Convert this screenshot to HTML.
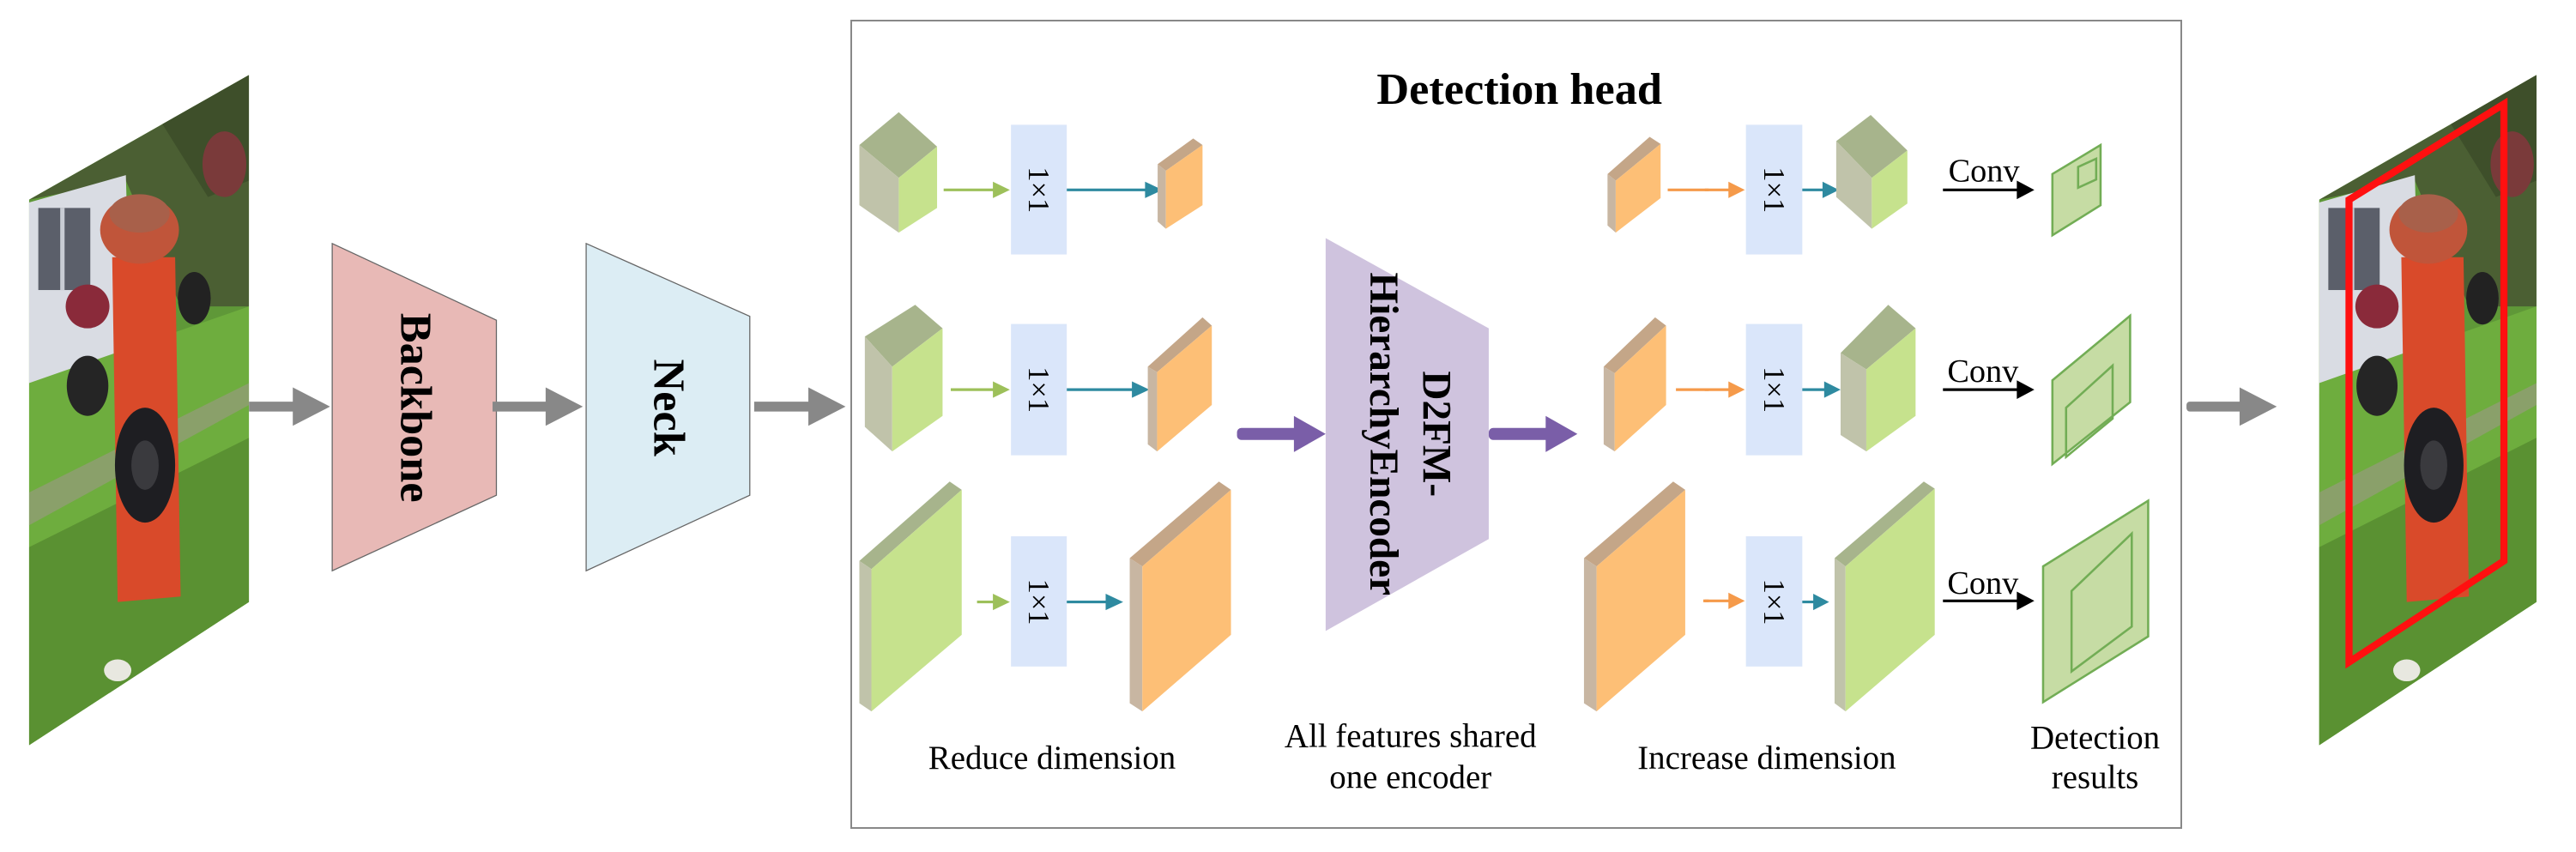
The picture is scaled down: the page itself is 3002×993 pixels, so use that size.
<!DOCTYPE html>
<html><head><meta charset="utf-8"><style>
html,body{margin:0;padding:0;background:#fff;}
svg{display:block;}
svg text{font-family:"Liberation Serif",serif;}
</style></head><body>
<svg width="3002" height="993" viewBox="0 0 3002 993" xmlns="http://www.w3.org/2000/svg" font-family="Liberation Serif, serif">
<defs>
<clipPath id="pc"><polygon points="53,365 455,137 455,1100 53,1362"/></clipPath>
<g id="photo">
 <g clip-path="url(#pc)">
  <rect x="0" y="100" width="500" height="1300" fill="#5f9838"/>
  <polygon points="53,365 455,137 455,560 330,560 230,330" fill="#4b5f33"/>
  <polygon points="280,200 455,137 455,330 380,360" fill="#3e4f2a"/>
  <ellipse cx="410" cy="300" rx="40" ry="60" fill="#7a3a3a"/>
  <polygon points="53,370 230,320 240,690 53,720" fill="#d9dce3"/>
  <rect x="70" y="380" width="95" height="150" fill="#5b5f6a"/>
  <rect x="110" y="380" width="8" height="150" fill="#c8ccd4"/>
  <ellipse cx="160" cy="560" rx="40" ry="40" fill="#8a2a3a"/>
  <polygon points="53,700 455,560 455,1100 53,1362" fill="#6ead3e"/>
  <polygon points="53,900 455,700 455,740 53,960" fill="#8aa06a"/>
  <polygon points="53,1000 455,800 455,1100 53,1362" fill="#5a9132"/>
  <path d="M205,470 L320,470 L330,1090 L215,1100 Z" fill="#d94a2a"/>
  <ellipse cx="255" cy="420" rx="72" ry="62" fill="#c0553a"/>
  <ellipse cx="255" cy="390" rx="55" ry="35" fill="#a8604a"/>
  <ellipse cx="355" cy="545" rx="30" ry="48" fill="#222"/>
  <ellipse cx="160" cy="705" rx="38" ry="55" fill="#252525"/>
  <ellipse cx="265" cy="850" rx="55" ry="105" fill="#1e1e22"/>
  <ellipse cx="265" cy="850" rx="25" ry="45" fill="#3a3a3e"/>
  <ellipse cx="215" cy="1225" rx="25" ry="20" fill="#e8e8e0"/>
 </g>
</g>
</defs>

<g transform="scale(0.6378)">
 <use href="#photo"/>
 <polygon points="607,445 907,585 907,905 607,1043" fill="#e8b9b6" stroke="#666" stroke-width="2"/>
 <polygon points="1071,445 1370,578 1370,905 1071,1043" fill="#dcedf4" stroke="#666" stroke-width="2"/>
 <text transform="translate(760,745) rotate(90)" text-anchor="middle" dominant-baseline="central" font-size="82" font-weight="bold">Backbone</text>
 <text transform="translate(1222,745) rotate(90)" text-anchor="middle" dominant-baseline="central" font-size="82" font-weight="bold">Neck</text>
 <g fill="#888">
  <rect x="455" y="734" width="90" height="18"/><polygon points="535,708 603,743 535,778"/>
  <rect x="900" y="734" width="110" height="18"/><polygon points="997,708 1065,743 997,778"/>
  <rect x="1378" y="734" width="110" height="18"/><polygon points="1477,708 1545,743 1477,778"/>
 </g>
</g>

<rect x="992" y="24" width="1550" height="941" fill="none" stroke="#888" stroke-width="2"/>

<g transform="translate(990,0) scale(0.6378)">
 <text x="1224" y="190" text-anchor="middle" font-size="82" font-weight="bold">Detection head</text>
 <polygon points="90,205 160,268 90,325 18,265" fill="#a7b48c"/>
 <polygon points="18,265 90,325 90,425 18,375" fill="#c0c3aa"/>
 <polygon points="90,325 160,268 160,380 90,425" fill="#c6e28d"/>
 <polygon points="28,615 120,557 170,600 78,670" fill="#a7b48c"/>
 <polygon points="28,615 78,670 78,825 28,780" fill="#c0c3aa"/>
 <polygon points="78,670 170,600 170,760 78,825" fill="#c6e28d"/>
 <polygon points="18,1025 183,880 205,895 40,1040" fill="#a7b48c"/>
 <polygon points="18,1025 40,1040 40,1300 18,1285" fill="#c0c3aa"/>
 <polygon points="40,1040 205,895 205,1160 40,1300" fill="#c6e28d"/>
 <g fill="#dae6fa">
  <rect x="295" y="228" width="102" height="237"/>
  <rect x="295" y="592" width="102" height="240"/>
  <rect x="295" y="980" width="102" height="238"/>
 </g>
 <g font-size="54">
  <text transform="translate(345,347) rotate(90)" text-anchor="middle" dominant-baseline="central">1×1</text>
  <text transform="translate(345,712) rotate(90)" text-anchor="middle" dominant-baseline="central">1×1</text>
  <text transform="translate(345,1100) rotate(90)" text-anchor="middle" dominant-baseline="central">1×1</text>
 </g>
 <g stroke="#9dc05a" stroke-width="5"><line x1="172" y1="347" x2="268" y2="347"/><line x1="185" y1="712" x2="268" y2="712"/><line x1="233" y1="1100" x2="268" y2="1100"/></g>
 <g fill="#9dc05a"><polygon points="262,332 293,347 262,362"/><polygon points="262,697 293,712 262,727"/><polygon points="262,1085 293,1100 262,1115"/></g>
 <g stroke="#2e8aa0" stroke-width="5"><line x1="397" y1="347" x2="545" y2="347"/><line x1="397" y1="712" x2="520" y2="712"/><line x1="397" y1="1100" x2="472" y2="1100"/></g>
 <g fill="#2e8aa0"><polygon points="540,332 572,347 540,362"/><polygon points="516,697 548,712 516,727"/><polygon points="468,1085 500,1100 468,1115"/></g>
 <polygon points="563,300 628,253 645,265 578,312" fill="#c4a688"/>
 <polygon points="563,300 578,312 578,418 563,405" fill="#c8b6a2"/>
 <polygon points="578,312 645,265 645,375 578,418" fill="#fdbf76"/>
 <polygon points="545,670 645,580 662,595 562,680" fill="#c4a688"/>
 <polygon points="545,670 562,680 562,825 545,812" fill="#c8b6a2"/>
 <polygon points="562,680 662,595 662,740 562,825" fill="#fdbf76"/>
 <polygon points="512,1020 675,880 697,895 535,1035" fill="#c4a688"/>
 <polygon points="512,1020 535,1035 535,1300 512,1285" fill="#c8b6a2"/>
 <polygon points="535,1035 697,895 697,1160 535,1300" fill="#fdbf76"/>
 <polygon points="870,435 1168,600 1168,985 870,1153" fill="#cfc3de"/>
 <text transform="translate(1072,793) rotate(90)" text-anchor="middle" dominant-baseline="central" font-size="74" font-weight="bold">D2FM-</text>
 <text transform="translate(975,793) rotate(90)" text-anchor="middle" dominant-baseline="central" font-size="74" font-weight="bold">HierarchyEncoder</text>
 <g fill="#7a5ea8">
  <rect x="708" y="782" width="115" height="22" rx="8"/><polygon points="812,760 870,793 812,826"/>
  <rect x="1168" y="782" width="115" height="22" rx="8"/><polygon points="1272,760 1330,793 1272,826"/>
 </g>
 <polygon points="1385,318 1462,250 1482,263 1400,330" fill="#c4a688"/>
 <polygon points="1385,318 1400,330 1400,425 1385,412" fill="#c8b6a2"/>
 <polygon points="1400,330 1482,263 1482,362 1400,425" fill="#fdbf76"/>
 <polygon points="1378,670 1472,580 1492,595 1398,682" fill="#c4a688"/>
 <polygon points="1378,670 1398,682 1398,825 1378,812" fill="#c8b6a2"/>
 <polygon points="1398,682 1492,595 1492,740 1398,825" fill="#fdbf76"/>
 <polygon points="1342,1020 1505,880 1527,895 1365,1035" fill="#c4a688"/>
 <polygon points="1342,1020 1365,1035 1365,1300 1342,1285" fill="#c8b6a2"/>
 <polygon points="1365,1035 1527,895 1527,1160 1365,1300" fill="#fdbf76"/>
 <g stroke="#f59a4a" stroke-width="5"><line x1="1495" y1="347" x2="1570" y2="347"/><line x1="1510" y1="712" x2="1570" y2="712"/><line x1="1560" y1="1098" x2="1570" y2="1098"/></g>
 <g font-size="61" text-anchor="middle">
  <text x="370" y="1405">Reduce dimension</text>
  <text x="1025" y="1365">All features shared</text>
  <text x="1025" y="1440">one encoder</text>
 </g>
</g>

<g transform="translate(1990,0) scale(0.6378)">
 <g stroke="#f59a4a" stroke-width="5"><line x1="-5" y1="347" x2="45" y2="347"/><line x1="-5" y1="712" x2="45" y2="712"/><line x1="-5" y1="1098" x2="45" y2="1098"/></g>
 <g fill="#f59a4a"><polygon points="38,332 68,347 38,362"/><polygon points="38,697 68,712 38,727"/><polygon points="38,1083 68,1098 38,1113"/></g>
 <g fill="#dae6fa">
  <rect x="70" y="228" width="103" height="237"/>
  <rect x="70" y="592" width="103" height="240"/>
  <rect x="70" y="980" width="103" height="238"/>
 </g>
 <g font-size="54">
  <text transform="translate(121,347) rotate(90)" text-anchor="middle" dominant-baseline="central">1×1</text>
  <text transform="translate(121,712) rotate(90)" text-anchor="middle" dominant-baseline="central">1×1</text>
  <text transform="translate(121,1100) rotate(90)" text-anchor="middle" dominant-baseline="central">1×1</text>
 </g>
 <g stroke="#2e8aa0" stroke-width="5"><line x1="173" y1="347" x2="215" y2="347"/><line x1="173" y1="712" x2="218" y2="712"/><line x1="173" y1="1100" x2="198" y2="1100"/></g>
 <g fill="#2e8aa0"><polygon points="210,332 240,347 210,362"/><polygon points="213,697 243,712 213,727"/><polygon points="193,1085 222,1100 193,1115"/></g>
 <polygon points="235,258 298,210 365,275 300,325" fill="#a7b48c"/>
 <polygon points="235,258 300,325 300,418 235,360" fill="#c0c3aa"/>
 <polygon points="300,325 365,275 365,372 300,418" fill="#c6e28d"/>
 <polygon points="243,645 330,557 380,600 290,675" fill="#a7b48c"/>
 <polygon points="243,645 290,675 290,825 243,795" fill="#c0c3aa"/>
 <polygon points="290,675 380,600 380,760 290,825" fill="#c6e28d"/>
 <polygon points="232,1020 395,880 415,893 252,1035" fill="#a7b48c"/>
 <polygon points="232,1020 252,1035 252,1300 232,1285" fill="#c0c3aa"/>
 <polygon points="252,1035 415,893 415,1160 252,1300" fill="#c6e28d"/>
 <g stroke="#000" stroke-width="5"><line x1="430" y1="347" x2="570" y2="347"/><line x1="430" y1="712" x2="570" y2="712"/><line x1="430" y1="1098" x2="570" y2="1098"/></g>
 <g fill="#000"><polygon points="565,330 597,347 565,364"/><polygon points="565,695 597,712 565,729"/><polygon points="565,1081 597,1098 565,1115"/></g>
 <g font-size="60">
  <text x="440" y="332">Conv</text>
  <text x="438" y="698">Conv</text>
  <text x="438" y="1085">Conv</text>
 </g>
 <g fill="#c6dca4" stroke="#72ad55" stroke-width="4">
  <polygon points="630,318 718,265 718,375 630,430"/>
  <polygon points="630,695 772,577 772,735 630,848"/>
  <polygon points="613,1035 805,915 805,1163 613,1283"/>
 </g>
 <g fill="none" stroke="#72ad55" stroke-width="4">
  <polygon points="677,305 710,290 710,328 677,343"/>
  <polygon points="655,745 740,668 740,765 655,835"/>
  <polygon points="665,1080 775,975 775,1145 665,1227"/>
 </g>
 <g font-size="61" text-anchor="middle">
  <text x="108" y="1405">Increase dimension</text>
  <text x="708" y="1368">Detection</text>
  <text x="708" y="1440">results</text>
 </g>
 <g fill="#888"><rect x="875" y="734" width="105" height="18" rx="6"/><polygon points="972,708 1040,743 972,778"/></g>
 <g transform="translate(1065,0) scale(0.988,1)"><use href="#photo"/></g>
 <polygon points="1172,365 1455,190 1455,1025 1172,1210" fill="none" stroke="#ff1010" stroke-width="13"/>
</g>
</svg>
</body></html>
